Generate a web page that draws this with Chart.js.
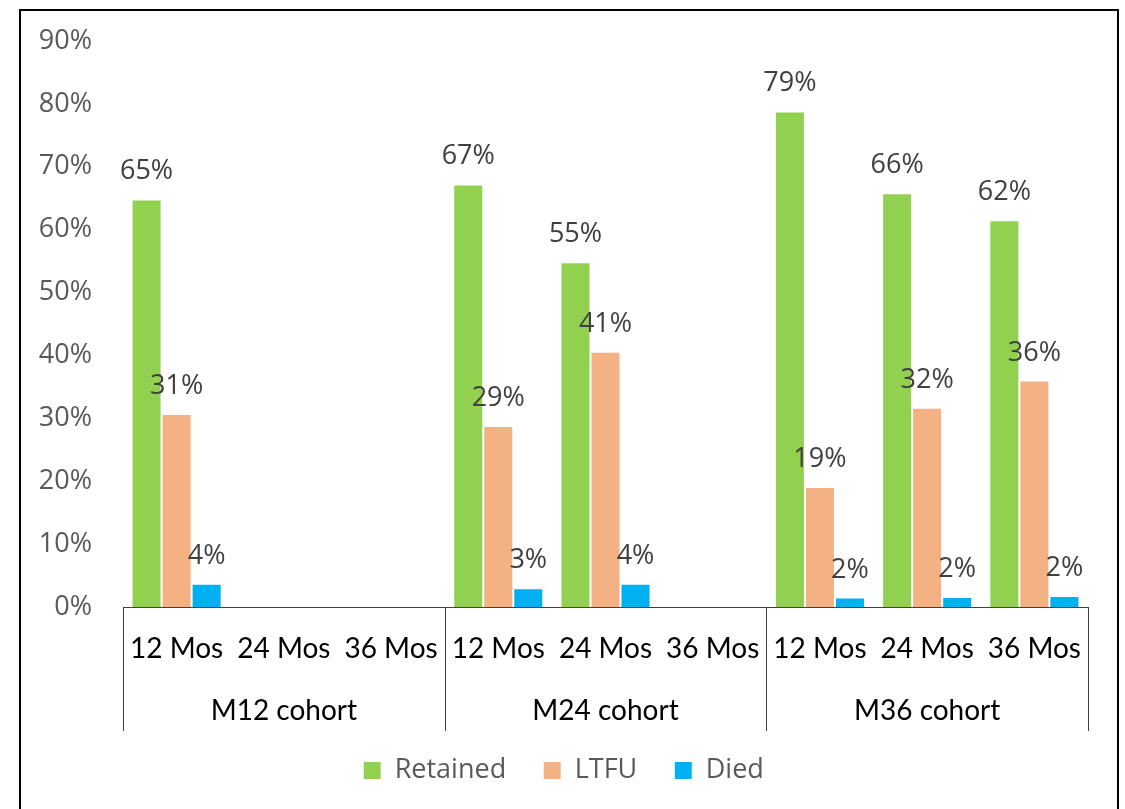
<!DOCTYPE html>
<html>
<head>
<meta charset="utf-8">
<script src="https://cdn.jsdelivr.net/npm/chart.js@4.4.0/dist/chart.umd.min.js"></script>
<style>
  html, body { margin: 0; padding: 0; background: #fff; }
  #wrap { position: relative; width: 1125px; height: 809px; overflow: hidden; }
  #frame { position: absolute; left: 19px; top: 9px; width: 1096px; height: 830px;
           border: 2px solid #000; pointer-events: none; }
  canvas { position: absolute; left: 0; top: 0; }
</style>
</head>
<body>
<div id="wrap">
  <canvas id="chart" width="1125" height="809"></canvas>
  <div id="frame"></div>
</div>
<script>
// data
const timeLabels = ["12 Mos", "24 Mos", "36 Mos", "12 Mos", "24 Mos", "36 Mos", "12 Mos", "24 Mos", "36 Mos"];
const cohorts = ["M12 cohort", "M24 cohort", "M36 cohort"];
const retained = [64.8, null, null, 67.2, 54.8, null, 78.8, 65.8, 61.5];
const ltfu = [30.7, null, null, 28.8, 40.6, null, 19.1, 31.7, 36.0];
const died = [3.7, null, null, 3.0, 3.7, null, 1.5, 1.6, 1.75];
const yTicks = [0, 10, 20, 30, 40, 50, 60, 70, 80, 90];

// labels above each bar
const valueLabels = {
    id: "valueLabels",
    afterLayout(chart) {
        // let the y tick labels use the space left of the axis
        chart.scales.y.left = 0;
    },
    afterDatasetsDraw(chart) {
        let ctx = chart.ctx;
        ctx.save();
        ctx.font = "27px 'Open Sans'";
        ctx.fillStyle = "#404040";
        ctx.textAlign = "center";
        ctx.textBaseline = "alphabetic";
        chart.data.datasets.forEach(function(ds, i) {
            let meta = chart.getDatasetMeta(i);
            meta.data.forEach(function(bar, j) {
                if (ds.data[j] == null) return;
                ctx.fillText(Math.round(ds.data[j]) + "%", bar.x, bar.y - 20);
            });
        });
        ctx.restore();
    }
};

// second row of the x axis: cohort names and separators
const cohortAxis = {
    id: "cohortAxis",
    afterDraw(chart) {
        let ctx = chart.ctx;
        let x = chart.scales.x;
        let step = x.width / timeLabels.length;
        ctx.save();
        ctx.strokeStyle = "#404040";
        ctx.lineWidth = 1;
        for (let g = 0; g <= cohorts.length; g++) {
            let px = Math.round(x.left + g * 3 * step) + 0.5;
            ctx.beginPath();
            ctx.moveTo(px, x.top);
            ctx.lineTo(px, x.top + 124);
            ctx.stroke();
        }
        ctx.font = "28px Lato";
        ctx.fillStyle = "#000";
        ctx.textAlign = "center";
        ctx.textBaseline = "middle";
        for (let g = 0; g < cohorts.length; g++) {
            ctx.fillText(cohorts[g], x.getPixelForValue(g * 3 + 1), x.top + 104);
        }
        ctx.restore();
    }
};

new Chart(document.getElementById("chart"), {
    type: "bar",
    data: {
        labels: timeLabels,
        datasets: [
            { label: "Retained", data: retained, backgroundColor: "#92D050", borderColor: "#fff", borderWidth: 1 },
            { label: "LTFU", data: ltfu, backgroundColor: "#F4B183", borderColor: "#fff", borderWidth: 1 },
            { label: "Died", data: died, backgroundColor: "#00B0F0", borderColor: "#fff", borderWidth: 1 }
        ]
    },
    options: {
        responsive: false,
        animation: false,
        layout: { padding: { top: 41, right: 37, bottom: 15, left: 39 } },
        datasets: { bar: { categoryPercentage: 0.84, barPercentage: 1, skipNull: false } },
        plugins: {
            legend: {
                position: "bottom",
                labels: {
                    boxWidth: 18, boxHeight: 18, padding: 37,
                    color: "#595959",
                    font: { family: "Open Sans", size: 27 }
                }
            },
            tooltip: { enabled: false }
        },
        scales: {
            x: {
                grid: { display: false, drawTicks: false },
                border: { display: true, color: "#404040", width: 1 },
                ticks: { color: "#000", font: { family: "Lato", size: 28 }, padding: 25, maxRotation: 0, autoSkip: false },
                afterFit: function(s) { s.height = 113; }
            },
            y: {
                min: 0, max: 90,
                afterBuildTicks: function(s) { s.ticks = yTicks.map(v => ({ value: v })); },
                grid: { display: false, drawTicks: false },
                border: { display: false },
                ticks: { color: "#595959", font: { family: "Open Sans", size: 27 }, padding: 31,
                         callback: v => v + "%" },
                afterFit: function(s) { s.width = 84; s.paddingTop = 0; s.paddingBottom = 0; }
            }
        }
    },
    plugins: [valueLabels, cohortAxis]
});
</script>
</body>
</html>
